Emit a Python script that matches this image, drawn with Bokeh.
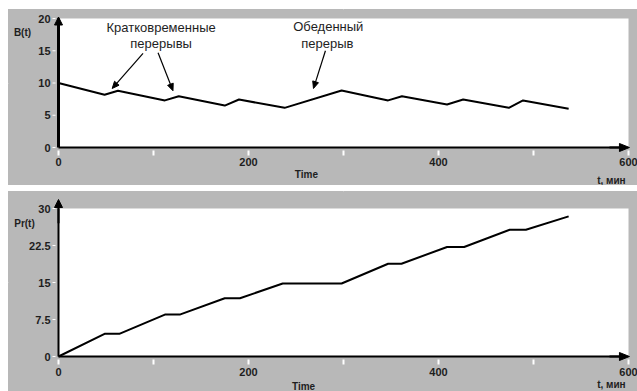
import math
from bokeh.plotting import figure
from bokeh.layouts import column
from bokeh.models import Range1d, FixedTicker
from bokeh.core.properties import value
from bokeh.embed import file_html
from bokeh.resources import INLINE

# ---------------- data ----------------
t_B = [0, 48.5, 62.6, 112, 126.6, 175, 190, 238, 298, 347, 361.5, 409, 426, 474, 489, 537]
B = [10.0, 8.17, 8.8, 7.3, 7.95, 6.5, 7.44, 6.15, 8.84, 7.3, 7.95, 6.67, 7.44, 6.15, 7.3, 6.0]

t_Pr = [0, 48.5, 64, 112, 127.6, 175, 191, 236, 298, 347, 361, 409, 427, 475, 492, 537]
Pr = [0, 4.6, 4.6, 8.5, 8.5, 11.8, 11.8, 14.8, 14.8, 18.8, 18.8, 22.2, 22.2, 25.7, 25.7, 28.4]

x_ticks = [0, 100, 200, 300, 400, 500, 600]
x_labeled = [0, 200, 400, 600]
x_labels = ["0", "200", "400", "600"]
yB_ticks = [0, 5, 10, 15, 20]
yB_labels = ["0", "5", "10", "15", "20"]
yPr_ticks = [0, 7.5, 15, 22.5, 30]
yPr_labels = ["0", "7.5", "15", "22.5", "30"]

note_texts = ["Кратковременные", "перерывы", "Обеденный", "перерыв"]
note_x = [108.0, 108.0, 284.0, 283.0]
note_y = [18.6, 16.1, 18.7, 16.1]
# annotation arrows: (x_start, y_start, x_end, y_end) in data units of the top panel
note_arrows = [(89.0, 14.6, 56.5, 9.15), (104.8, 14.7, 120.5, 8.8), (281.0, 15.0, 268.4, 9.15)]

GRAY = "#b8b8b8"
TXT = "#1e1e1e"
FONT = "Liberation Sans"

W = 629
LEFT, RIGHT = 50, 9               # px around the plotting area
KX = (W - LEFT - RIGHT) / 600.0   # px per minute


def arrow(p, xs, ys, xe, ye, ky, L, hw, lw):
    """Line with a filled triangular head, computed in screen px then mapped to data."""
    dx, dy = (xe - xs) * KX, (ye - ys) * ky
    n = math.hypot(dx, dy)
    ux, uy = dx / n, dy / n
    bx, by = -ux * L, -uy * L
    px_, py_ = -uy * hw, ux * hw
    base_x, base_y = xe + bx / KX, ye + by / ky
    p.segment(x0=[xs], y0=[ys], x1=[xe + bx * 0.5 / KX], y1=[ye + by * 0.5 / ky],
              line_color="black", line_width=lw)
    p.patch(x=[xe, base_x + px_ / KX, base_x - px_ / KX],
            y=[ye, base_y + py_ / ky, base_y - py_ / ky],
            fill_color="black", line_color="black", line_width=1)


def make_panel(height, top_px, bottom_px, ymax, yticks, ylabels, yaxis_w, lab_dy, tip_above):
    ky = (height - top_px - bottom_px) / ymax
    x0 = -LEFT / KX
    x1 = 600 + RIGHT / KX
    y0 = -bottom_px / ky
    y1 = ymax + top_px / ky
    p = figure(width=W, height=height, x_range=Range1d(x0, x1), y_range=Range1d(y0, y1),
               output_backend="svg", toolbar_location=None,
               x_axis_location=None, y_axis_location=None,
               min_border=0, background_fill_color=GRAY, border_fill_color=GRAY,
               outline_line_color=GRAY)
    p.styles = {"background-color": GRAY}
    # keep grids (hidden under the white plotting area)
    p.xgrid.ticker = FixedTicker(ticks=[300])
    p.ygrid.ticker = FixedTicker(ticks=[ymax / 2])
    p.xgrid.bounds = (0, ymax)
    p.ygrid.bounds = (0, 600)
    p.grid.grid_line_color = "white"
    # gray panel and white plotting area
    p.quad(left=[x0], right=[x1], bottom=[y0], top=[y1], fill_color=GRAY, line_color=None)
    p.quad(left=[0], right=[600], bottom=[0], top=[ymax], fill_color="white", line_color=None)
    # x ticks (white, below the axis)
    d = 3 / ky
    p.segment(x0=x_ticks, y0=[-d] * len(x_ticks), x1=x_ticks,
              y1=[-d - 5 / ky] * len(x_ticks), line_color="white", line_width=2)
    # y ticks (white, left of axis)
    p.segment(x0=[-6 / KX] * len(yticks), y0=yticks, x1=[-3 / KX] * len(yticks), y1=yticks,
              line_color="white", line_width=1)
    # axis lines with arrow heads
    p.segment(x0=[0], y0=[0], x1=[590], y1=[0], line_color="black", line_width=2)
    p.segment(x0=[0], y0=[0], x1=[0], y1=[ymax], line_color="black", line_width=yaxis_w)
    arrow(p, 0, ymax * 0.9, 0, ymax + tip_above / ky, ky, 8, 4, yaxis_w)
    arrow(p, 580, 0, 601, 0, ky, 10, 4, 2)
    # tick labels
    p.text(x=x_labeled, y=[-lab_dy / ky] * len(x_labeled), text=x_labels,
           text_align="center", text_baseline="middle", text_font=value(FONT),
           text_font_style="bold", text_font_size="11px", text_color=TXT)
    p.text(x=[-8 / KX] * len(yticks), y=yticks, text=ylabels,
           text_align="right", text_baseline="middle", text_font=value(FONT),
           text_font_style="bold", text_font_size="11px", text_color=TXT)
    return p, ky


def bold_text(p, x, y, txt, align="center", size="10px"):
    p.text(x=[x], y=[y], text=[txt], text_align=align, text_baseline="middle",
           text_font=value(FONT), text_font_style="bold", text_font_size=size, text_color=TXT)


# ---------------- top panel ----------------
p1, ky1 = make_panel(176, 9, 38, 20, yB_ticks, yB_labels, 3, 14, 1.5)
p1.line(t_B, B, line_color="black", line_width=2)
bold_text(p1, -37.9, 17.8, "B(t)")
bold_text(p1, 261, -27 / ky1, "Time")
bold_text(p1, 597, -33 / ky1, "t, мин", align="right")
p1.text(x=note_x, y=note_y, text=note_texts,
        text_align="center", text_baseline="middle", text_font=value(FONT),
        text_font_size="13px", text_color=TXT)
for xs, ys, xe, ye in note_arrows:
    arrow(p1, xs, ys, xe, ye, ky1, 7, 3, 1.2)

# ---------------- bottom panel ----------------
p2, ky2 = make_panel(200, 17, 35, 30, yPr_ticks, yPr_labels, 2, 15, 9)
p2.line(t_Pr, Pr, line_color="black", line_width=2)
bold_text(p2, -35.8, 27.0, "Pr(t)")
bold_text(p2, 258, -30 / ky2, "Time")
bold_text(p2, 597, -28 / ky2, "t, мин", align="right")

layout = column(p1, p2, spacing=6, margin=(9, 0, 0, 8))
open("out.html", "w").write(file_html(layout, INLINE))
